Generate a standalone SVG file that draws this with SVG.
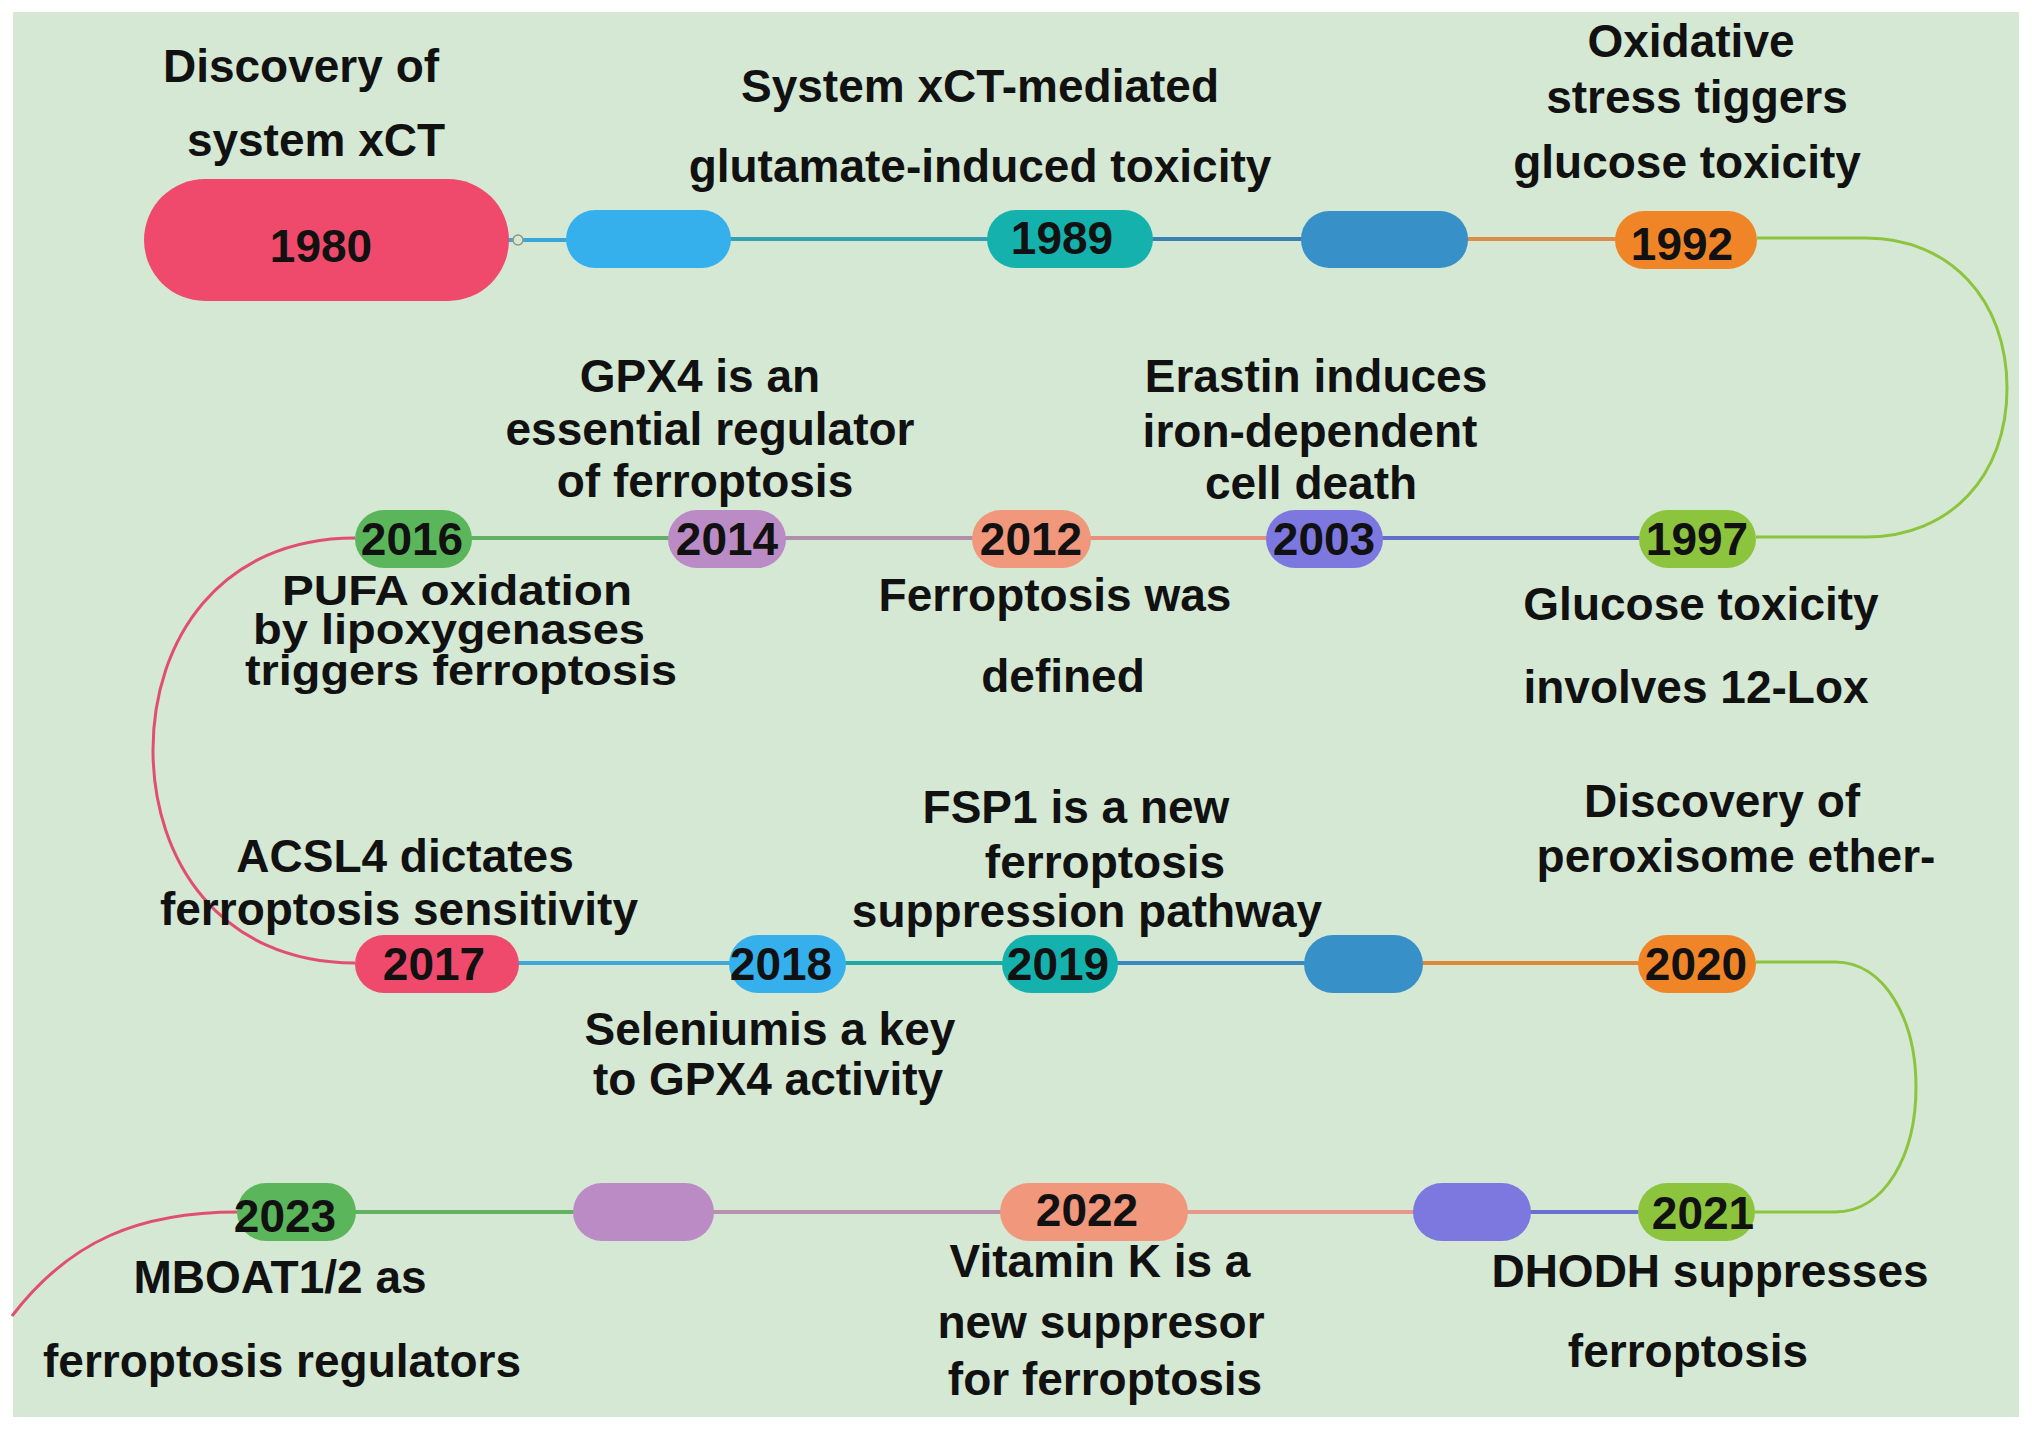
<svg xmlns="http://www.w3.org/2000/svg" width="2032" height="1430" viewBox="0 0 2032 1430">
<style>
.lbl{font-family:"Liberation Sans",Arial,sans-serif;font-weight:bold;font-size:46px;fill:#111;text-anchor:middle}
.tight{font-size:43px}
.yr{font-family:"Liberation Sans",Arial,sans-serif;font-weight:bold;font-size:46px;fill:#111;text-anchor:middle}
.ln{fill:none;stroke-width:4;stroke-linecap:round}
.cv{fill:none;stroke-width:3}
</style>
<rect x="0" y="0" width="2032" height="1430" fill="#ffffff"/>
<rect x="13" y="12" width="2006" height="1405" fill="#d5e8d4"/>

<g id="connectors">
  <line class="ln" x1="509" y1="240" x2="566" y2="240" stroke="#3aa6d8"/>
  <line class="ln" x1="731" y1="239" x2="987" y2="239" stroke="#2fa3b3"/>
  <line class="ln" x1="1153" y1="239" x2="1301" y2="239" stroke="#3a80b0"/>
  <line class="ln" x1="1468" y1="239" x2="1615" y2="239" stroke="#d98d4a"/>
  <path class="cv" d="M1757,238 H1866 C1950,238 2007,300 2007,388 C2007,476 1950,537 1866,537 H1756" stroke="#8dc43e"/>
  <line class="ln" x1="1383" y1="538" x2="1639" y2="538" stroke="#6070c8"/>
  <line class="ln" x1="1091" y1="538" x2="1266" y2="538" stroke="#e8907e"/>
  <line class="ln" x1="786" y1="538" x2="972" y2="538" stroke="#b08fab"/>
  <line class="ln" x1="472" y1="538" x2="668" y2="538" stroke="#62b062"/>
  <path class="cv" d="M355,538 C220,538 153,640 153,750 C153,860 220,963 355,963" stroke="#e0506e"/>
  <line class="ln" x1="519" y1="963" x2="729" y2="963" stroke="#40a8d8"/>
  <line class="ln" x1="846" y1="963" x2="1002" y2="963" stroke="#22a8a2"/>
  <line class="ln" x1="1118" y1="963" x2="1304" y2="963" stroke="#3a88c0"/>
  <line class="ln" x1="1423" y1="963" x2="1638" y2="963" stroke="#e0883a"/>
  <path class="cv" d="M1756,962 H1835 C1885,962 1916,1020 1916,1087 C1916,1155 1885,1212 1835,1212 H1755" stroke="#8dc43e"/>
  <line class="ln" x1="1531" y1="1212" x2="1638" y2="1212" stroke="#6870d0"/>
  <line class="ln" x1="1188" y1="1212" x2="1413" y2="1212" stroke="#e89888"/>
  <line class="ln" x1="714" y1="1212" x2="1000" y2="1212" stroke="#b890b0"/>
  <line class="ln" x1="356" y1="1212" x2="573" y2="1212" stroke="#62b062"/>
  <path class="cv" d="M12,1316 C70,1240 140,1212 238,1212" stroke="#e0506e"/>
  <circle cx="518" cy="240" r="5" fill="#d5e8d4" stroke="#8a9a80" stroke-width="1.5"/>
</g>

<g id="n1980"><rect x="144" y="179" width="365" height="122" rx="61" fill="#ef4a6b"/><text class="yr" x="321" y="262">1980</text></g>
<g id="nblue1"><rect x="566" y="210" width="165" height="58" rx="29" fill="#36b0ec"/></g>
<g id="n1989"><rect x="987" y="210" width="166" height="58" rx="29" fill="#15b2ad"/><text class="yr" x="1062" y="254">1989</text></g>
<g id="nblue2"><rect x="1301" y="211" width="167" height="57" rx="28" fill="#3790c8"/></g>
<g id="n1992"><rect x="1615" y="211" width="142" height="58" rx="29" fill="#f08528"/><text class="yr" x="1682" y="260">1992</text></g>

<g id="n1997"><rect x="1639" y="510" width="117" height="58" rx="29" fill="#8dc43e"/><text class="yr" x="1697" y="555">1997</text></g>
<g id="n2003"><rect x="1266" y="510" width="117" height="58" rx="29" fill="#7c78e0"/><text class="yr" x="1324" y="555">2003</text></g>
<g id="n2012"><rect x="972" y="510" width="119" height="58" rx="29" fill="#f0977c"/><text class="yr" x="1031" y="555">2012</text></g>
<g id="n2014"><rect x="668" y="510" width="118" height="58" rx="29" fill="#bb8bc5"/><text class="yr" x="727" y="555">2014</text></g>
<g id="n2016"><rect x="355" y="510" width="117" height="58" rx="29" fill="#5bb65b"/><text class="yr" x="412" y="555">2016</text></g>

<g id="n2017"><rect x="355" y="935" width="164" height="58" rx="29" fill="#ef4a6b"/><text class="yr" x="434" y="980">2017</text></g>
<g id="n2018"><rect x="729" y="935" width="117" height="58" rx="29" fill="#36b0ec"/><text class="yr" x="781" y="980">2018</text></g>
<g id="n2019"><rect x="1002" y="935" width="116" height="58" rx="29" fill="#15b2ad"/><text class="yr" x="1058" y="980">2019</text></g>
<g id="nblue3"><rect x="1304" y="935" width="119" height="58" rx="29" fill="#3790c8"/></g>
<g id="n2020"><rect x="1638" y="935" width="118" height="58" rx="29" fill="#f08528"/><text class="yr" x="1696" y="980">2020</text></g>

<g id="n2021"><rect x="1638" y="1183" width="117" height="58" rx="29" fill="#8dc43e"/><text class="yr" x="1703" y="1229">2021</text></g>
<g id="nperi"><rect x="1413" y="1183" width="118" height="58" rx="29" fill="#7c78e0"/></g>
<g id="n2022"><rect x="1000" y="1183" width="188" height="58" rx="29" fill="#f0977c"/><text class="yr" x="1087" y="1226">2022</text></g>
<g id="npurple"><rect x="573" y="1183" width="141" height="58" rx="29" fill="#bb8bc5"/></g>
<g id="n2023"><rect x="237" y="1183" width="119" height="58" rx="29" fill="#5bb65b"/><text class="yr" x="285" y="1232">2023</text></g>

<g id="labels">
  <text class="lbl" x="301" y="82">Discovery of</text>
  <text class="lbl" x="316" y="156">system xCT</text>
  <text class="lbl" x="980" y="102">System xCT-mediated</text>
  <text class="lbl" x="980" y="182">glutamate-induced toxicity</text>
  <text class="lbl" x="1691" y="57">Oxidative</text>
  <text class="lbl" x="1697" y="113">stress tiggers</text>
  <text class="lbl" x="1687" y="178">glucose toxicity</text>
  <text class="lbl" x="700" y="392">GPX4 is an</text>
  <text class="lbl" x="710" y="445">essential regulator</text>
  <text class="lbl" x="705" y="497">of ferroptosis</text>
  <text class="lbl" x="1316" y="392">Erastin induces</text>
  <text class="lbl" x="1310" y="447">iron-dependent</text>
  <text class="lbl" x="1311" y="499">cell death</text>
  <text class="lbl tight" x="457" y="605" textLength="350" lengthAdjust="spacingAndGlyphs">PUFA oxidation</text>
  <text class="lbl tight" x="449" y="644" textLength="392" lengthAdjust="spacingAndGlyphs">by lipoxygenases</text>
  <text class="lbl tight" x="461" y="685" textLength="432" lengthAdjust="spacingAndGlyphs">triggers ferroptosis</text>
  <text class="lbl" x="1055" y="611">Ferroptosis was</text>
  <text class="lbl" x="1063" y="692">defined</text>
  <text class="lbl" x="1701" y="620">Glucose toxicity</text>
  <text class="lbl" x="1696" y="703">involves 12-Lox</text>
  <text class="lbl" x="405" y="872">ACSL4 dictates</text>
  <text class="lbl" x="399" y="925">ferroptosis sensitivity</text>
  <text class="lbl" x="1076" y="823">FSP1 is a new</text>
  <text class="lbl" x="1105" y="878">ferroptosis</text>
  <text class="lbl" x="1087" y="927">suppression pathway</text>
  <text class="lbl" x="1722" y="817">Discovery of</text>
  <text class="lbl" x="1736" y="872">peroxisome ether-</text>
  <text class="lbl" x="770" y="1045">Seleniumis a key</text>
  <text class="lbl" x="768" y="1095">to GPX4 activity</text>
  <text class="lbl" x="280" y="1293">MBOAT1/2 as</text>
  <text class="lbl" x="282" y="1377">ferroptosis regulators</text>
  <text class="lbl" x="1100" y="1277">Vitamin K is a</text>
  <text class="lbl" x="1101" y="1338">new suppresor</text>
  <text class="lbl" x="1105" y="1395">for ferroptosis</text>
  <text class="lbl" x="1710" y="1287">DHODH suppresses</text>
  <text class="lbl" x="1688" y="1367">ferroptosis</text>
</g>
</svg>
